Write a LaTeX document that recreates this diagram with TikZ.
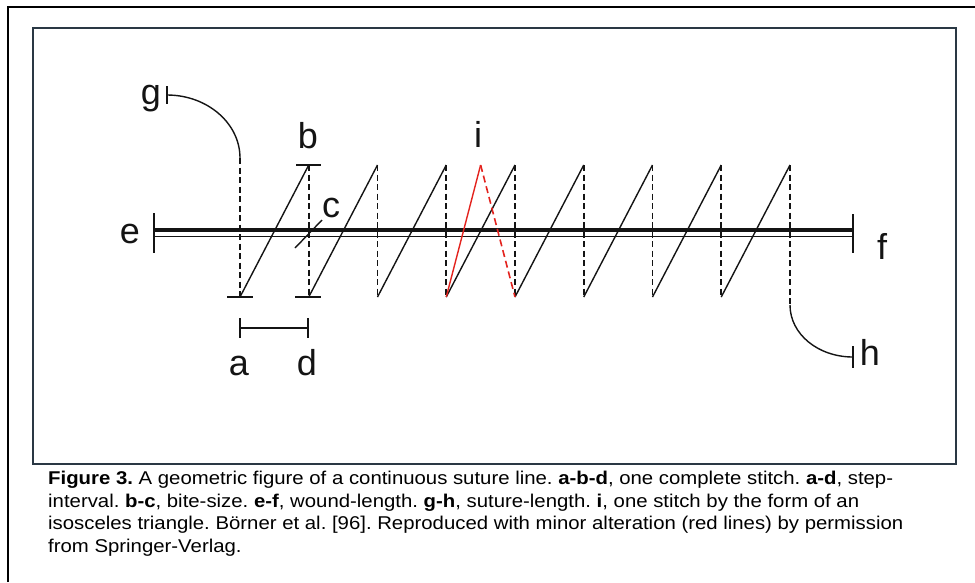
\documentclass[tikz,border=0pt]{standalone}
\usepackage{fontspec}
\setmainfont{Liberation Sans}
\newfontfamily\capfont[FakeStretch=1.1]{Liberation Sans}
\usetikzlibrary{calc}
\definecolor{ink}{HTML}{141414}
\definecolor{framec}{HTML}{2A3844}
\definecolor{redline}{HTML}{E3231E}
\tikzset{
  thread/.style={line width=1.4pt,color=ink},
  guide/.style={line width=1.6pt,color=ink,dash pattern=on 6pt off 3.5pt},
  redthread/.style={line width=1.4pt,color=redline},
  reddash/.style={redthread,line width=1.6pt,dash pattern=on 7pt off 4pt},
  tickc/.style={line width=1.4pt,color=ink},
  lbl/.style={font=\fontsize{36}{36}\selectfont,text=ink,inner sep=0pt,anchor=base},
  capt/.style={font=\capfont\fontsize{18.5}{22.4}\selectfont\frenchspacing,text=black,
    inner sep=0pt,align=left,anchor=base west}
}
\begin{document}
\begin{tikzpicture}[x=1pt,y=-1pt]
  \useasboundingbox (0,0) rectangle (975,582);
  % frames
  \draw[line width=1.2pt,color=black] (8,582) -- (8,7) -- (975,7);
  \draw[line width=2.8pt,color=framec] (33,28) rectangle (956,464);
  % stitch points, top and bottom
  \foreach \k in {0,...,8}{
    \coordinate (t\k) at (240+\k*68.75,165);
    \coordinate (b\k) at (240+\k*68.75,297);
  }
  \coordinate (apex) at ($(t3)!0.5!(t4)$);
  % wound line e-f
  \coordinate (e1) at (154,230.3);
  \coordinate (f1) at (853,230.3);
  \coordinate (e2) at (154,236.7);
  \coordinate (f2) at (853,236.7);
  \draw[line width=4pt,color=ink] (e1) -- (f1);
  \draw[line width=1.3pt,color=ink] (e2) -- (f2);
  \draw[tickc] (154,213) -- (154,253);
  \draw[tickc] (853,214) -- (853,253);
  % dashed passes under the wound
  \coordinate (gend) at (240,158);
  \coordinate (hend) at (790,305);
  \draw[guide] (gend) -- (b0);
  \foreach \k in {1,...,7}{\draw[guide] (t\k) -- (b\k);}
  \draw[guide] (t8) -- (hend);
  % visible diagonals
  \foreach \k [evaluate=\k as \n using int(\k+1)] in {0,...,7}{\draw[thread] (b\k) -- (t\n);}
  % red isosceles stitch
  \draw[redthread] (b3) -- (apex);
  \draw[reddash] (apex) -- (b4);
  % bars at b and bottom points
  \draw[tickc] (296,165) -- (321,165);
  \draw[tickc] (227,297) -- (253,297);
  \draw[tickc] (295,297) -- (321,297);
  % bite-size slash
  \coordinate (c1) at (295,248);
  \coordinate (c2) at (322,220);
  \draw[thread] (c1) -- (c2);
  % step interval a-d
  \coordinate (sa) at (240,328);
  \coordinate (sd) at (308,328);
  \draw[tickc] (sa) -- (sd);
  \draw[tickc] (240,318) -- (240,338);
  \draw[tickc] (308,318) -- (308,338);
  % suture length g-h
  \coordinate (gbar) at (167,95);
  \coordinate (hbar) at (853,357);
  \draw[thread] (gbar) .. controls (207,95) and (240,123) .. (gend);
  \draw[thread] (hend) .. controls (790,334) and (818,357) .. (hbar);
  \draw[tickc] (167,86) -- (167,104);
  \draw[tickc] (853,346) -- (853,368);
  % letters
  \node[lbl] (lg) at (151,104) {g};
  \node[lbl] (lb) at (308,148) {b};
  \node[lbl] (lc) at (331,217) {c};
  \node[lbl] (le) at (130,243) {e};
  \node[lbl] (lf) at (882,259) {f};
  \node[lbl] (li) at (478,147) {i};
  \node[lbl] (la) at (239,375) {a};
  \node[lbl] (ld) at (307,375) {d};
  \node[lbl] (lh) at (870,365) {h};
  % caption (base = last line)
  \node[capt] (caption) at (48,552) {\textbf{Figure 3.} A geometric figure of a continuous suture line. \textbf{a-b-d}, one complete stitch. \textbf{a-d}, step-\\
    interval. \textbf{b-c}, bite-size. \textbf{e-f}, wound-length. \textbf{g-h}, suture-length. \textbf{i}, one stitch by the form of an\\
    isosceles triangle. Börner et al. [96]. Reproduced with minor alteration (red lines) by permission\\
    from Springer-Verlag.};
\end{tikzpicture}
\end{document}
